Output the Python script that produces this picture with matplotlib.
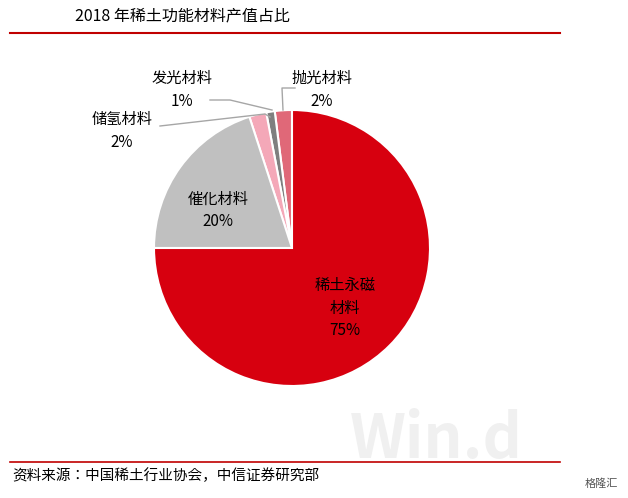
import matplotlib
matplotlib.use("Agg")
import matplotlib.pyplot as plt
from matplotlib.lines import Line2D
from matplotlib import font_manager

names = sorted({f.name for f in font_manager.fontManager.ttflist if "CJK" in f.name})
cjk = [n for n in names if "SC" in n] or names
plt.rcParams["font.family"] = "sans-serif"
plt.rcParams["font.sans-serif"] = cjk + ["DejaVu Sans"]

categories = ["抛光材料", "发光材料", "储氢材料", "催化材料", "稀土永磁材料"]
values = [2, 1, 2, 20, 75]
colors = ["#e06878", "#7f7f7f", "#f4a8b8", "#c0c0c0", "#d7000f"]

W, H = 628, 498
fig = plt.figure(figsize=(W/100, H/100), dpi=100)
cx, cy, r = 292, 248, 138
ax = fig.add_axes([(cx-r)/W, 1-(cy+r)/H, 2*r/W, 2*r/H])
ax.pie(values, colors=colors, startangle=90, counterclock=True,
       wedgeprops=dict(edgecolor="white", linewidth=1.5))
ax.set_xlim(-1, 1); ax.set_ylim(-1, 1); ax.set_aspect("equal")

def P(x, y):
    return x/W, 1-y/H

fig.text(*P(75, 16), "2018 年稀土功能材料产值占比", fontsize=11.5, va="center", ha="left")
fig.add_artist(Line2D([10/W, 560/W], [1-33/H]*2, color="#c00000", lw=1.5))
fig.add_artist(Line2D([10/W, 560/W], [1-462/H]*2, color="#c00000", lw=1.2))
fig.text(*P(12, 476), "资料来源：中国稀土行业协会，中信证券研究部", fontsize=10.5, va="center")
fig.text(*P(350, 440), "Win.d", fontsize=44, color="#f0f0f0", va="center", ha="left", fontweight="bold", zorder=0)
fig.text(*P(585, 484), "格隆汇", fontsize=8, color="#555555", va="center")

lab = dict(fontsize=11, ha="center", va="center", linespacing=1.4)
fig.text(*P(345, 308), "稀土永磁\n材料\n75%", **lab)
fig.text(*P(218, 210), "催化材料\n20%", **lab)
fig.text(*P(122, 131), "储氢材料\n2%", **lab)
fig.text(*P(182, 90), "发光材料\n1%", **lab)
fig.text(*P(322, 90), "抛光材料\n2%", **lab)

lc = "#a6a6a6"
for pts in [[(160, 126), (265, 114), (270, 117)],
            [(210, 100), (230, 100), (272, 110)],
            [(295, 88), (282, 88), (283, 110)]]:
    xs = [p[0]/W for p in pts]; ys = [1-p[1]/H for p in pts]
    fig.add_artist(Line2D(xs, ys, color=lc, lw=1))

fig.savefig("out.png", dpi=100, facecolor="white")
